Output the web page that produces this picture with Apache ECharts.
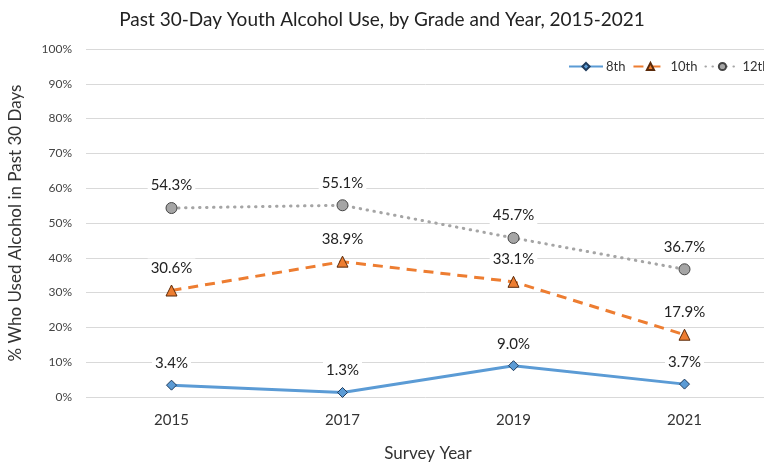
<!DOCTYPE html>
<html><head><meta charset="utf-8">
<script src="https://cdn.jsdelivr.net/npm/echarts@6/dist/echarts.min.js"></script>
<style>html,body{margin:0;padding:0;background:#fff}#c{width:764px;height:463px}</style>
</head><body><div id="c"></div>
<script>
const years = ['2015','2017','2019','2021'];
const grade8 = [3.4, 1.3, 9.0, 3.7];
const grade10 = [30.6, 38.9, 33.1, 17.9];
const grade12 = [54.3, 55.1, 45.7, 36.7];
const yTicks = [0,10,20,30,40,50,60,70,80,90,100];

const FONT = 'Lato, "Open Sans", sans-serif';
const chart = echarts.init(document.getElementById('c'));
const lbl = {
  show: true, position: 'top', distance: 7,
  formatter: p => p.value.toFixed(1) + '%',
  color: '#222', fontSize: 15, fontFamily: FONT,
  backgroundColor: '#fff', padding: [2,3]
};
chart.setOption({
  animation: false,
  title: {text: 'Past 30-Day Youth Alcohol Use, by Grade and Year, 2015-2021', left: 'center', top: 5,
    textStyle: {fontSize: 19, fontWeight: 'normal', color: '#222', fontFamily: FONT}},
  legend: {left: 563, top: 55, width: 260, itemWidth: 34, itemHeight: 9, itemGap: 7,
    textStyle: {fontSize: 13, color: '#333', fontFamily: FONT, padding: [0,0,0,-2]},
    data: ['8th','10th','12th']},
  grid: {left: 86, top: 49, width: 684, height: 348, containLabel: false, outerBoundsMode: 'none'},
  xAxis: {type: 'category', data: years, boundaryGap: true,
    axisLine: {show: false}, axisTick: {show: false},
    axisLabel: {fontSize: 15, color: '#333', fontFamily: FONT, margin: 16},
    name: 'Survey Year', nameLocation: 'middle', nameGap: 48,
    nameTextStyle: {fontSize: 17, color: '#333', fontFamily: FONT}},
  yAxis: {type: 'value', min: 0, max: 100, interval: 10,
    axisLabel: {formatter: v => yTicks.includes(v) ? v + '%' : '', fontSize: 12, color: '#444', fontFamily: FONT, margin: 14},
    splitLine: {lineStyle: {color: '#d9d9d9', width: 1}},
    axisLine: {show: false}, axisTick: {show: false},
    name: '% Who Used Alcohol in Past 30 Days', nameLocation: 'middle', nameGap: 62,
    nameTextStyle: {fontSize: 17, color: '#333', fontFamily: FONT}},
  series: [
    {name: '8th', type: 'line', data: grade8, symbol: 'diamond', symbolSize: 10,
      lineStyle: {color: '#5b9bd5', width: 3}, itemStyle: {color: '#5b9bd5', borderColor: '#1f3b5c', borderWidth: 1},
      label: lbl, z: 3},
    {name: '10th', type: 'line', data: grade10, symbol: 'triangle', symbolSize: 11,
      lineStyle: {color: '#ed7d31', width: 3, type: [10,7]}, itemStyle: {color: '#ed7d31', borderColor: '#5a2a0a', borderWidth: 1},
      label: lbl, z: 3},
    {name: '12th', type: 'line', data: grade12, symbol: 'circle', symbolSize: 11,
      lineStyle: {color: '#a5a5a5', width: 3, type: [0.5,6.5], cap: 'round'}, itemStyle: {color: '#a5a5a5', borderColor: '#444', borderWidth: 1},
      label: lbl, z: 3}
  ]
});
</script></body></html>
